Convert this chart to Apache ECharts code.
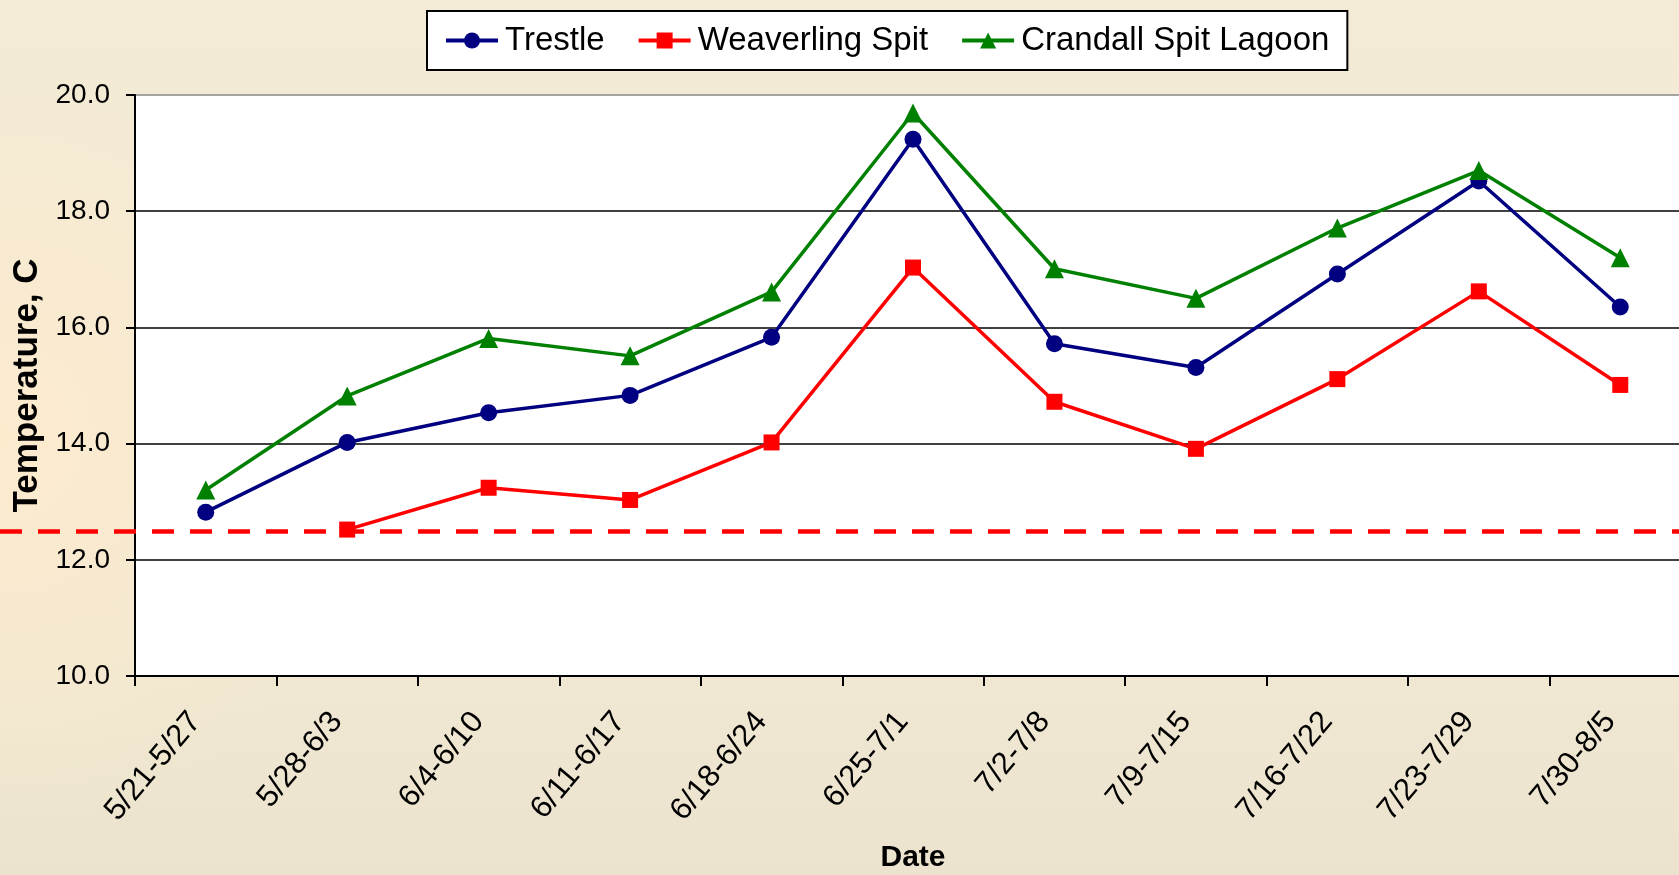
<!DOCTYPE html>
<html lang="en">

<head>
    <meta charset="UTF-8">
    <title>Temperature</title>
    <style>
        html, body { margin: 0; padding: 0; }
        #main { width: 1679px; height: 875px; }
    </style>
</head>

<body>
    <div id="main"></div>
    <script src="https://cdn.jsdelivr.net/npm/echarts@6/dist/echarts.min.js"></script>
    <script>
        var weeks = ['5/21-5/27', '5/28-6/3', '6/4-6/10', '6/11-6/17', '6/18-6/24', '6/25-7/1',
            '7/2-7/8', '7/9-7/15', '7/16-7/22', '7/23-7/29', '7/30-8/5'];
        var trestle = [12.82, 14.02, 14.53, 14.83, 15.83, 19.24, 15.72, 15.31, 16.92, 18.52, 16.35];
        var weaverling = [null, 12.52, 13.24, 13.03, 14.02, 17.03, 14.72, 13.91, 15.11, 16.62, 15.01];
        var crandall = [13.2, 14.82, 15.81, 15.51, 16.61, 19.69, 17.01, 16.5, 17.71, 18.7, 17.2];
        var threshold = 12.5;
        var yTicks = { min: 10, max: 20, step: 2 };

        var font = '"Liberation Sans", Arial, sans-serif';
        var myChart = echarts.init(document.getElementById('main'));

        var option = {
            animation: false,
            backgroundColor: {
                type: 'linear', x: 0, y: 0, x2: 0, y2: 1,
                colorStops: [
                    { offset: 0, color: '#f3ebd6' },
                    { offset: 0.75, color: '#f0e8d2' },
                    { offset: 1, color: '#ebe3cd' }
                ]
            },
            // warm tint along the left edge, behind the plot
            graphic: [{
                type: 'rect',
                z: -10,
                silent: true,
                shape: { x: 0, y: 0, width: 400, height: 875 },
                style: {
                    fill: {
                        type: 'radial', x: 0, y: 0.5, r: 1,
                        colorStops: [
                            { offset: 0, color: 'rgba(255,235,205,0.85)' },
                            { offset: 1, color: 'rgba(255,235,205,0)' }
                        ]
                    }
                }
            }],
            legend: {
                left: 427,
                top: 11,
                padding: [13, 18, 13, 17],
                backgroundColor: '#fff',
                borderColor: '#000',
                borderWidth: 2,
                borderRadius: 0,
                itemWidth: 52,
                itemHeight: 20,
                itemGap: 32,
                lineStyle: { width: 4 },
                textStyle: { fontFamily: font, fontSize: 33, color: '#000', padding: [0, 0, 0, 2] },
                data: ['Trestle', 'Weaverling Spit', 'Crandall Spit Lagoon']
            },
            grid: {
                left: 135,
                right: -12,
                top: 95,
                bottom: 199,
                outerBoundsMode: 'none',
                show: true,
                backgroundColor: '#fff',
                borderWidth: 0
            },
            xAxis: {
                type: 'category',
                data: weeks,
                boundaryGap: true,
                name: 'Date',
                nameLocation: 'middle',
                nameGap: 167,
                nameTextStyle: { fontFamily: font, fontWeight: 'bold', fontSize: 30, color: '#000' },
                axisLine: { lineStyle: { color: '#000', width: 2 } },
                axisTick: { show: true, length: 10, lineStyle: { color: '#000', width: 2 } },
                axisLabel: {
                    rotate: 50,
                    margin: 28,
                    padding: [0, 16, 0, 0],
                    fontFamily: font,
                    fontSize: 31,
                    color: '#000'
                }
            },
            yAxis: {
                type: 'value',
                min: yTicks.min,
                max: yTicks.max,
                interval: yTicks.step,
                name: 'Temperature, C',
                nameLocation: 'middle',
                nameGap: 89,
                nameTextStyle: { fontFamily: font, fontWeight: 'bold', fontSize: 35, color: '#000' },
                axisLine: { show: true, lineStyle: { color: '#000', width: 2 } },
                axisTick: { show: true, length: 9, lineStyle: { color: '#000', width: 2 } },
                axisLabel: {
                    margin: 25,
                    fontFamily: font,
                    fontSize: 28,
                    color: '#000',
                    formatter: function (v) { return v.toFixed(1); }
                },
                splitLine: {
                    show: true,
                    lineStyle: { color: ['#000', '#000', '#000', '#000', '#000', '#888'], width: 1.5 }
                }
            },
            series: [{
                    name: 'Trestle',
                    type: 'line',
                    data: trestle,
                    symbol: 'circle',
                    symbolSize: 17,
                    color: '#000080',
                    lineStyle: { width: 3.5, color: '#000080' }
                },
                {
                    name: 'Weaverling Spit',
                    type: 'line',
                    data: weaverling,
                    symbol: 'rect',
                    symbolSize: 16,
                    color: '#ff0000',
                    lineStyle: { width: 3.5, color: '#ff0000' },
                    markLine: {
                        silent: true,
                        symbol: 'none',
                        label: { show: false },
                        lineStyle: { color: '#ff0000', width: 4.5, type: [22, 16] },
                        data: [[{ x: 0, yAxis: threshold }, { x: '100%', yAxis: threshold }]]
                    }
                },
                {
                    name: 'Crandall Spit Lagoon',
                    type: 'line',
                    data: crandall,
                    symbol: 'triangle',
                    symbolSize: 19,
                    color: '#008000',
                    lineStyle: { width: 3.5, color: '#008000' }
                }
            ]
        };

        myChart.setOption(option);
    </script>
</body>

</html>
